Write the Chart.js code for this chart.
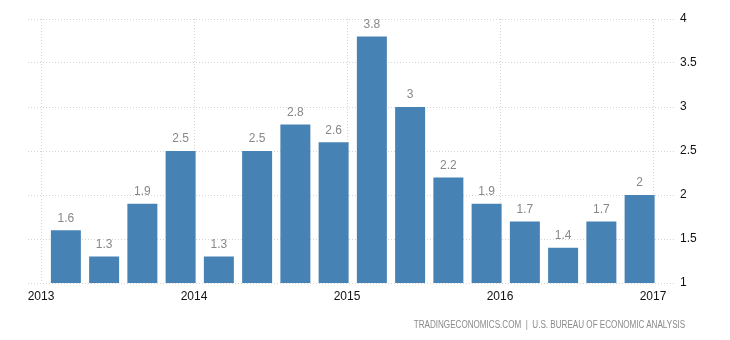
<!DOCTYPE html>
<html>
<head>
<meta charset="utf-8">
<script src="https://cdn.jsdelivr.net/npm/chart.js@4/dist/chart.umd.min.js"></script>
<style>
    html, body { margin: 0; padding: 0; background: #fff; }
    .wrap { position: relative; width: 730px; height: 340px; }
    .source {
        position: absolute;
        right: 45px;
        top: 319px;
        font: 10px "Liberation Sans", Arial, sans-serif;
        color: #8a8a8a;
        white-space: nowrap;
        transform: scaleX(0.81);
        transform-origin: right center;
    }
</style>
</head>
<body>
<div class="wrap">
    <canvas id="chart" width="730" height="340"></canvas>
    <div class="source">TRADINGECONOMICS.COM &nbsp;|&nbsp; U.S. BUREAU OF ECONOMIC ANALYSIS</div>
</div>
<script>
// quarterly values, 2013 Q1 .. 2016 Q4
const quarterValues = [1.6, 1.3, 1.9, 2.5, 1.3, 2.5, 2.8, 2.6, 3.8, 3, 2.2, 1.9, 1.7, 1.4, 1.7, 2];
const yearLabels = ["2013", "2014", "2015", "2016", "2017"];
const yTicks = [1, 1.5, 2, 2.5, 3, 3.5, 4];

const barLabels = {
    id: "barLabels",
    afterDatasetsDraw(chart) {
        const ctx = chart.ctx;
        const meta = chart.getDatasetMeta(0);
        ctx.save();
        ctx.font = "12px 'Liberation Sans', Arial, sans-serif";
        ctx.fillStyle = "#888888";
        ctx.textAlign = "center";
        ctx.textBaseline = "middle";
        meta.data.forEach((bar, index) => {
            ctx.fillText(String(quarterValues[index]), bar.x, bar.y - 12);
        });
        ctx.restore();
    },
};

function initChart() {
    const canvas = document.getElementById("chart");
    const points = quarterValues.map((value, index) => ({ x: index + 0.65, y: value }));
    const gridStyle = { color: "#d4d4d4", drawTicks: false, lineWidth: 1 };

    new Chart(canvas, {
        type: "bar",
        data: {
            datasets: [
                {
                    data: points,
                    backgroundColor: "#4682b4",
                    borderWidth: 0,
                    barPercentage: 0.98,
                    categoryPercentage: 0.8,
                },
            ],
        },
        options: {
            responsive: false,
            animation: false,
            layout: { padding: { left: 28, top: 19, right: 0, bottom: 0 } },
            plugins: {
                legend: { display: false },
                tooltip: { enabled: false },
            },
            scales: {
                x: {
                    type: "linear",
                    offset: false,
                    min: -0.34,
                    max: 16.575,
                    grid: { ...gridStyle, offset: false },
                    border: { display: false, dash: [1, 2] },
                    afterFit: (scale) => { scale.height = 57; },
                    afterBuildTicks: (scale) => {
                        scale.ticks = yearLabels.map((label, index) => ({ value: index * 4 }));
                    },
                    ticks: {
                        autoSkip: false,
                        padding: 6,
                        color: "#111",
                        font: { family: "'Liberation Sans', Arial, sans-serif", size: 12 },
                        maxRotation: 0,
                        callback: (value) => yearLabels[Math.round(value / 4)] || "",
                    },
                },
                y: {
                    position: "right",
                    min: yTicks[0],
                    max: yTicks[yTicks.length - 1],
                    grid: gridStyle,
                    border: { display: false, dash: [1, 2] },
                    afterFit: (scale) => { scale.width = 55; },
                    afterBuildTicks: (scale) => {
                        scale.ticks = yTicks.map((value) => ({ value }));
                    },
                    ticks: {
                        padding: 5,
                        color: "#111",
                        font: { family: "'Liberation Sans', Arial, sans-serif", size: 12 },
                        callback: (value) => String(value),
                    },
                },
            },
        },
        plugins: [barLabels],
    });
}

document.addEventListener("DOMContentLoaded", initChart);
</script>
</body>
</html>
